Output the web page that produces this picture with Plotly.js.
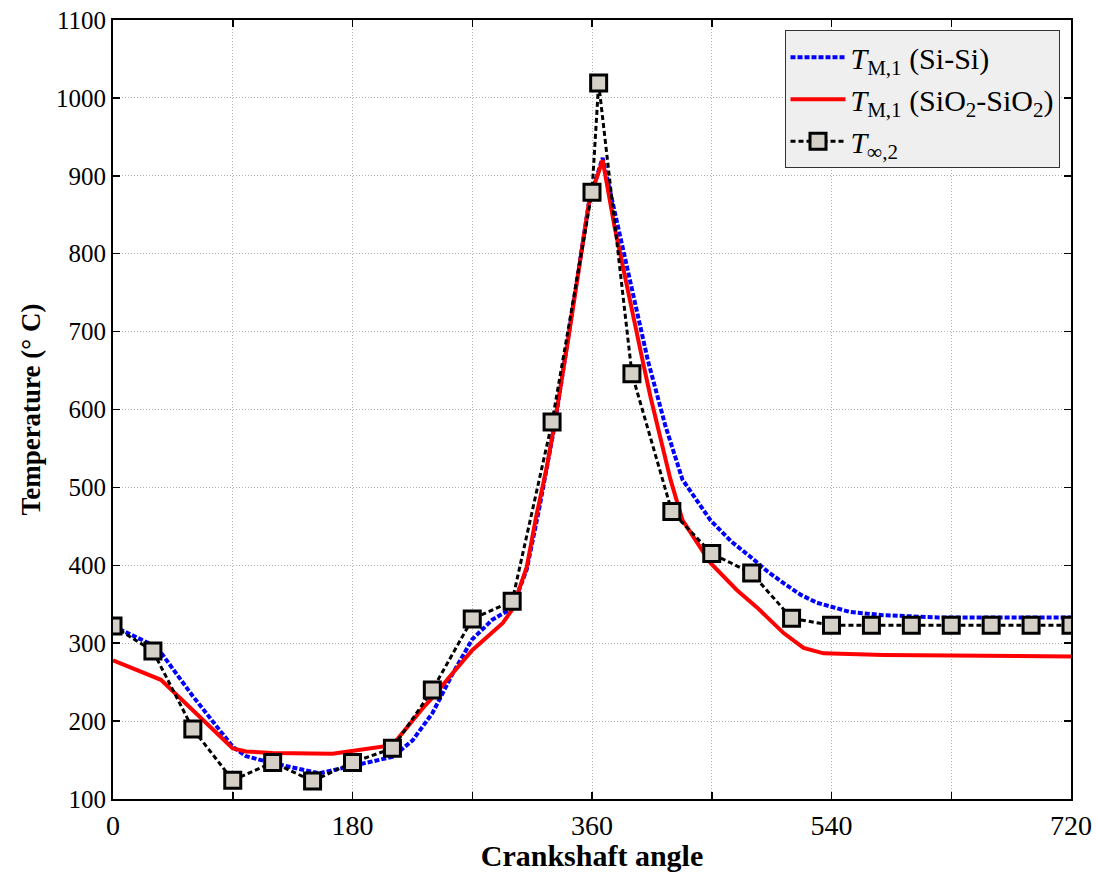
<!DOCTYPE html>
<html>
<head>
<meta charset="utf-8">
<script src="https://cdn.plot.ly/plotly-3.0.1.min.js"></script>
<style>
  html, body { margin: 0; padding: 0; background: #fff; }
  #chart { width: 1097px; height: 872px; }
</style>
</head>
<body>
<div id="chart"></div>
<script>
// Mean temperature, Si-Si pair
const siAngle = [0, 33, 60, 90, 100, 120, 155, 180, 210, 225, 240, 255, 270, 285, 300, 311, 320, 332, 343, 351, 358, 368, 380, 390, 402, 415, 428, 449, 465, 479, 492, 504, 517, 529, 554, 579, 620, 720];
const siTemp  = [322, 295, 232, 167, 155, 146, 133, 143, 154, 175, 210, 260, 305, 330, 345, 395, 470, 580, 700, 792, 869, 923, 832, 752, 663, 580, 510, 458, 430, 411, 392, 377, 362, 352, 340, 336, 333, 333];

// Mean temperature, SiO2-SiO2 pair
const sioAngle = [0, 36, 60, 90, 100, 120, 165, 178, 210, 233, 240, 253, 270, 293, 300, 311, 318, 326, 332, 343, 351, 358, 368, 377, 398, 404, 419, 428, 449, 469, 484, 504, 519, 534, 579, 720];
const sioTemp  = [278, 253, 214, 165, 161, 159, 158, 161, 169, 217, 230, 257, 291, 326, 343, 398, 462, 526, 583, 700, 792, 869, 920, 834, 663, 616, 510, 458, 403, 368, 346, 313, 294, 287, 285, 283];

// Gas temperature samples
const gasAngle = [0, 30, 60, 90, 120, 150, 180, 210, 240, 270, 300, 330, 360, 365, 390, 420, 450, 480, 510, 540, 570, 600, 630, 660, 690, 720];
const gasTemp  = [322, 290, 190, 124, 147, 123, 147, 165, 240, 331, 354, 584, 879, 1019, 646, 469, 415, 390, 332, 323, 323, 323, 323, 323, 323, 323];

// Axis ticks
const xTickVals = [0, 180, 360, 540, 720];
const xMinorStep = 90;
const yTickVals = [100, 200, 300, 400, 500, 600, 700, 800, 900, 1000, 1100];

const serif = '"Liberation Serif", "Times New Roman", serif';
const gridStyle = { color: '#b4b4b4', width: 1, dash: '1px,2px' };

const traces = [
  {
    x: siAngle, y: siTemp, type: 'scatter', mode: 'lines',
    name: '<i>T</i><sub>M,1</sub> (Si-Si)',
    line: { color: '#0000ff', width: 4, dash: '5px,2px' }
  },
  {
    x: sioAngle, y: sioTemp, type: 'scatter', mode: 'lines',
    name: '<i>T</i><sub>M,1</sub> (SiO<sub>2</sub>-SiO<sub>2</sub>)',
    line: { color: '#ff0000', width: 4 }
  },
  {
    x: gasAngle, y: gasTemp, type: 'scatter', mode: 'lines+markers',
    name: '<i>T</i><sub><i>∞</i>,2</sub>',
    line: { color: '#000000', width: 3, dash: '5px,3px' },
    marker: { symbol: 'square', size: 16, color: '#d4d0c8', line: { color: '#000000', width: 3 } }
  }
];

const layout = {
  width: 1097, height: 872,
  margin: { l: 113, r: 26, t: 20, b: 73 },
  paper_bgcolor: '#ffffff', plot_bgcolor: '#ffffff',
  font: { family: serif, color: '#000', size: 22 },
  showlegend: true,
  legend: {
    x: 0.988, y: 0.987, xanchor: 'right', yanchor: 'top',
    bgcolor: '#efefef', bordercolor: '#333333', borderwidth: 1,
    font: { family: serif, size: 30, color: '#000' },
    itemwidth: 55,
    tracegroupgap: 0
  },
  xaxis: {
    range: [0, 720], tickmode: 'array', tickvals: xTickVals,
    ticks: 'inside', ticklen: 7, tickwidth: 1.5, tickcolor: '#000',
    showline: true, linecolor: '#000', linewidth: 2, mirror: 'ticks',
    showgrid: true, gridcolor: gridStyle.color, gridwidth: gridStyle.width, griddash: gridStyle.dash,
    minor: {
      dtick: xMinorStep, tick0: 0, ticks: 'inside', ticklen: 7, tickwidth: 1.5, tickcolor: '#000',
      showgrid: true, gridcolor: gridStyle.color, gridwidth: gridStyle.width, griddash: gridStyle.dash
    },
    zeroline: false,
    tickfont: { family: serif, size: 28, color: '#000' },
    title: { text: '<b>Crankshaft angle</b>', font: { family: serif, size: 30, color: '#000' }, standoff: 2 }
  },
  yaxis: {
    range: [100, 1100], tickmode: 'array', tickvals: yTickVals,
    ticks: 'inside', ticklen: 7, tickwidth: 1.5, tickcolor: '#000',
    showline: true, linecolor: '#000', linewidth: 2, mirror: 'ticks',
    showgrid: true, gridcolor: gridStyle.color, gridwidth: gridStyle.width, griddash: gridStyle.dash,
    zeroline: false,
    tickfont: { family: serif, size: 25, color: '#000' },
    title: { text: '<b>Temperature (° C)</b>', font: { family: serif, size: 27, color: '#000' }, standoff: 8 }
  }
};

Plotly.newPlot('chart', traces, layout, { displayModeBar: false, staticPlot: true });
</script>
</body>
</html>
